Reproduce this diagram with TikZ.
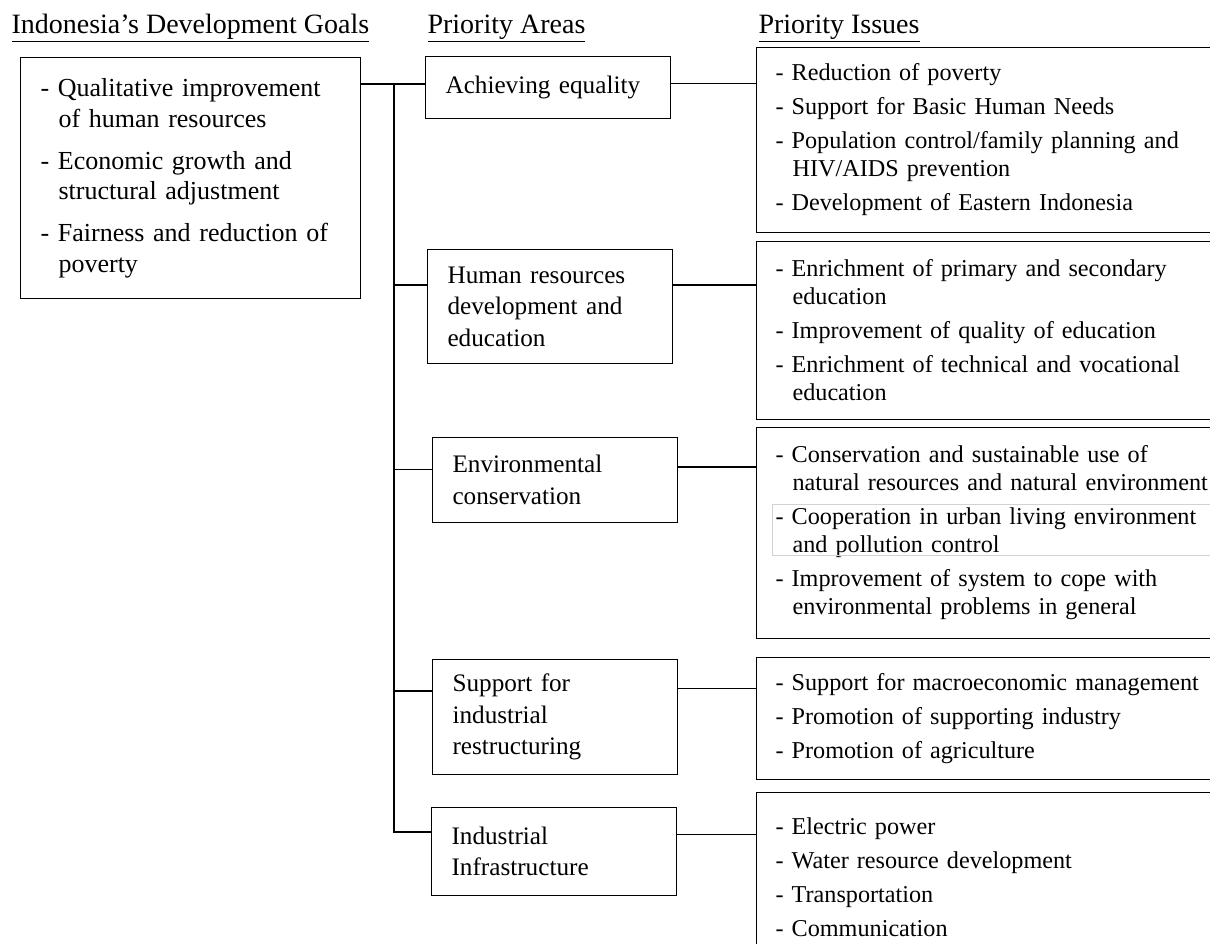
\documentclass[tikz,border=0pt]{standalone}
\usepackage{fontspec}
\setmainfont{Liberation Serif}
\begin{document}
\begin{tikzpicture}%
[x=0.5pt, y=-0.5pt, line width=0.55pt,%
head/.style={anchor=base west, inner sep=0pt, font=\fontsize{14}{16}\selectfont},%
goalbox/.style={draw, anchor=north west, align=left, text width=150pt, inner xsep=10pt, font=\fontsize{13}{15.25}\selectfont},%
areabox/.style={draw, anchor=north west, align=left, text width=102.5pt, inner xsep=10pt, font=\fontsize{12.6}{15.75}\selectfont},%
issuebox/.style={draw, anchor=north west, align=left, text width=230pt, inner xsep=9.5pt, font=\fontsize{12.1}{14}\selectfont},%
link/.style={line width=0.75pt}]
\useasboundingbox (0,0) rectangle (1210,943);
\clip (0,0) rectangle (1210,943);
\node[head] (goalshead) at (11,33) {\underline{Indonesia’s Development Goals}};
\node[head] (areashead) at (427,33) {\underline{Priority Areas}};
\node[head] (issueshead) at (758,33) {\underline{Priority Issues}};

\node[goalbox, minimum height=120.5pt] (goals) at (20,57) {- Qualitative improvement\\ \hspace*{9pt}of human resources\\[5.75pt] - Economic growth and\\ \hspace*{9pt}structural adjustment\\[5.75pt] - Fairness and reduction of\\ \hspace*{9pt}poverty\\[3pt]};

\node[areabox, minimum height=31pt] (equality) at (425,56) {Achieving equality};
\node[areabox, minimum height=57pt] (hrd) at (427,249) {Human resources\\ development and\\ education};
\node[areabox, minimum height=42.5pt] (environment) at (432,437) {Environmental\\ conservation};
\node[areabox, minimum height=57.5pt] (industry) at (432,659) {Support for\\ industrial\\ restructuring};
\node[areabox, minimum height=44pt] (infra) at (431,807) {Industrial\\ Infrastructure};

\node[issuebox, minimum height=92.5pt] (issues1) at (756,47) {- Reduction of poverty\\[3pt] - Support for Basic Human Needs\\[3pt] - Population control/family planning and\\ \hspace*{8.5pt}HIV/AIDS prevention\\[3pt] - Development of Eastern Indonesia};
\node[issuebox, minimum height=89pt] (issues2) at (756,241) {- Enrichment of primary and secondary\\ \hspace*{8.5pt}education\\[3pt] - Improvement of quality of education\\[3pt] - Enrichment of technical and vocational\\ \hspace*{8.5pt}education};
\node[issuebox, minimum height=105.5pt] (issues3) at (756,427) {- Conservation and sustainable use of\\ \hspace*{8.5pt}natural resources and natural environment\\[3pt] - Cooperation in urban living environment\\ \hspace*{8.5pt}and pollution control\\[3pt] - Improvement of system to cope with\\ \hspace*{8.5pt}environmental problems in general};
\node[issuebox, minimum height=61pt] (issues4) at (756,657) {- Support for macroeconomic management\\[3pt] - Promotion of supporting industry\\[3pt] - Promotion of agriculture};
\node[issuebox, minimum height=85pt] (issues5) at (756,792) {- Electric power\\[3pt] - Water resource development\\[3pt] - Transportation\\[3pt] - Communication};
\draw[gray!35, line width=0.4pt] (772,504) rectangle (1240,555);

\coordinate (trunk) at (394,84);
\draw[link] (goals.east |- trunk) -- (equality.west |- trunk);
\draw[link] (trunk) -- (trunk |- infra.171) -- (infra.171);
\draw[link] (trunk |- hrd.170) -- (hrd.170);
\draw[link] (trunk |- environment.175) -- (environment.175);
\draw[link] (trunk |- industry.168) -- (industry.168);
\draw[link] (equality.2) -- (equality.2 -| issues1.west);
\draw[link] (hrd.10) -- (hrd.10 -| issues2.west);
\draw[link] (environment.6) -- (environment.6 -| issues3.west);
\draw[link] (industry.13) -- (industry.13 -| issues4.west);
\draw[link] (infra.8) -- (infra.8 -| issues5.west);
\end{tikzpicture}
\end{document}
